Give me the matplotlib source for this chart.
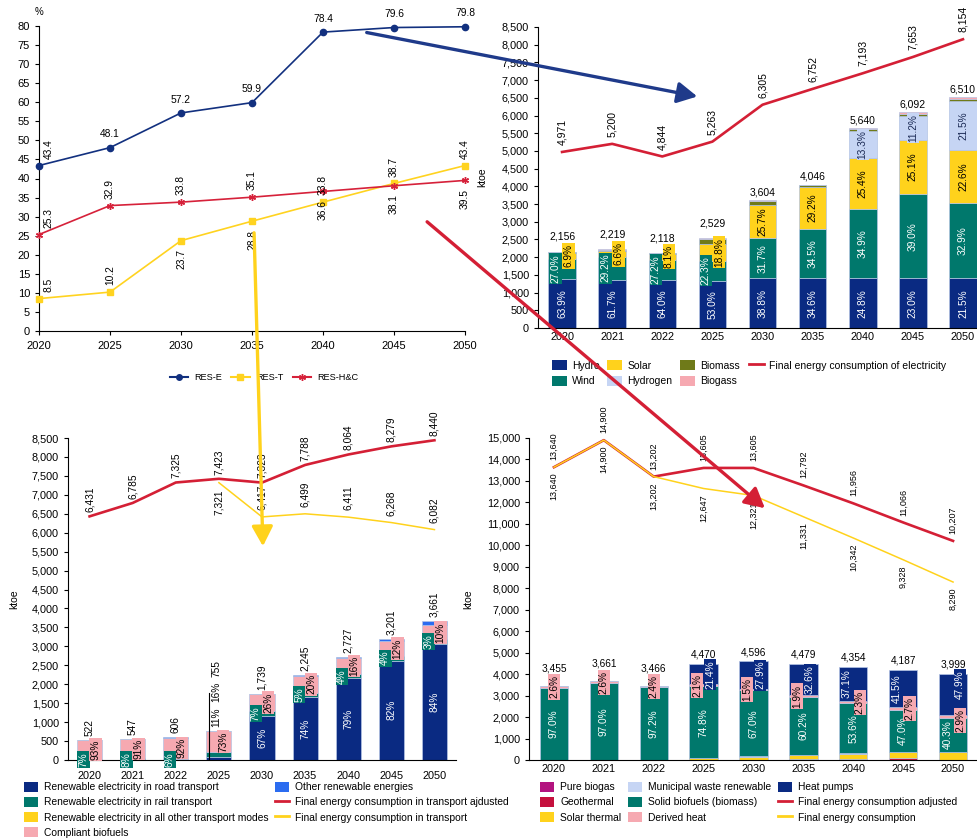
import numpy as np
import matplotlib
matplotlib.use('Agg')
import matplotlib.pyplot as plt
from matplotlib.patches import Patch, FancyArrowPatch
from matplotlib.lines import Line2D
from matplotlib.ticker import FuncFormatter

plt.rcParams['font.family'] = ['Liberation Sans', 'DejaVu Sans']

# top left: RES shares (%)
res_years = [2020, 2025, 2030, 2035, 2040, 2045, 2050]
res_e = [43.4, 48.1, 57.2, 59.9, 78.4, 79.6, 79.8]
res_t = [8.5, 10.2, 23.7, 28.8, 33.8, 38.7, 43.4]
res_hc = [25.3, 32.9, 33.8, 35.1, 36.6, 38.1, 39.5]

# bar chart categories (shared by the three ktoe panels)
years = ['2020', '2021', '2022', '2025', '2030', '2035', '2040', '2045', '2050']

# top right: renewable electricity (shares in % of total, ktoe)
el_total = [2156, 2219, 2118, 2529, 3604, 4046, 5640, 6092, 6510]
el_hydro = [63.9, 61.7, 64.0, 53.0, 38.8, 34.6, 24.8, 23.0, 21.5]
el_wind = [27.0, 29.2, 27.2, 22.3, 31.7, 34.5, 34.9, 39.0, 32.9]
el_solar = [6.9, 6.6, 8.1, 18.8, 25.7, 29.2, 25.4, 25.1, 22.6]
el_hydrogen = [0, 0, 0, 0, 0, 0, 13.3, 11.2, 21.5]
el_biomass = [1.5, 1.8, 0.4, 4.8, 3.0, 1.2, 1.0, 1.1, 0.9]
el_biogass = [0.7, 0.7, 0.3, 1.1, 0.8, 0.5, 0.6, 0.6, 0.6]
el_final = [4971, 5200, 4844, 5263, 6305, 6752, 7193, 7653, 8154]

# bottom left: transport
tr_total = [522, 547, 606, 755, 1739, 2245, 2727, 3201, 3661]
tr_road = [0, 0, 0, 11, 67, 74, 79, 82, 84]
tr_rail = [7, 8, 6, 16, 7, 5, 4, 4, 3]
tr_other_modes = [0, 0, 0, 0, 0, 0, 0, 0, 0]
tr_biofuels = [93, 91, 92, 73, 26, 20, 16, 12, 10]
tr_other_res = [0, 1, 2, 0, 0, 1, 1, 2, 3]
tr_adjusted = [6431, 6785, 7325, 7423, 7323, 7788, 8064, 8279, 8440]
tr_final = [np.nan, np.nan, np.nan, 7321, 6417, 6499, 6411, 6268, 6082]

# bottom right: heating & cooling
hc_total = [3455, 3661, 3466, 4470, 4596, 4479, 4354, 4187, 3999]
hc_pure_biogas = [0, 0, 0, 0.1, 0.1, 0.1, 0.1, 0.1, 0.1]
hc_geothermal = [0, 0, 0, 0.1, 0.2, 0.5, 1.2, 1.6, 0.3]
hc_solar = [0.2, 0.2, 0.2, 1.5, 3.2, 4.6, 5.6, 7.0, 8.4]
hc_municipal = [0.2, 0.2, 0.2, 0.1, 0.1, 0.1, 0.1, 0.1, 0.1]
hc_solid = [97.0, 97.0, 97.2, 74.8, 67.0, 60.2, 53.6, 47.0, 40.3]
hc_derived = [2.6, 2.6, 2.4, 2.1, 1.5, 1.9, 2.3, 2.7, 2.9]
hc_heatpumps = [0, 0, 0, 21.4, 27.9, 32.6, 37.1, 41.5, 47.9]
hc_adjusted = [13640, 14900, 13202, 13605, 13605, 12792, 11956, 11066, 10207]
hc_final = [13640, 14900, 13202, 12647, 12321, 11331, 10342, 9328, 8290]

navy = '#0a2a82'
teal = '#00786c'
yellow = '#ffd21c'
lightblue = '#c6d5f4'
olive = '#6f7a19'
pink = '#f6a9b1'
red = '#d41f35'
brightblue = '#2b6cf0'
magenta = '#b3137f'
crimson = '#c5103d'
edge = '#b4c4e4'

W, H = 978, 839
fig = plt.figure(figsize=(W / 100, H / 100), dpi=100)


def add_ax(l, r, t, b):
    return fig.add_axes([l / W, 1 - b / H, (r - l) / W, (b - t) / H])


def style(ax, fs=7.8):
    for s in ['top', 'right']:
        ax.spines[s].set_visible(False)
    ax.tick_params(labelsize=fs, length=3, width=0.8)


thousands = FuncFormatter(lambda v, p: f'{v:,.0f}')


def stack_bars(ax, totals, parts, width):
    totals = np.array(totals, float)
    bottom = np.zeros(len(totals))
    mids = []
    for pct, col in parts:
        vals = np.array(pct, float) / 100 * totals
        ax.bar(np.arange(len(totals)), vals, width, bottom=bottom, color=col,
               edgecolor=edge, linewidth=0.5, zorder=2)
        mids.append(bottom + vals / 2)
        bottom = bottom + vals
    return mids


def lab(ax, x, y, txt, color='black', box=None, fs=7.3, rot=90, dy=0):
    kw = {}
    if box is not None:
        kw['bbox'] = dict(boxstyle='square,pad=0.12', fc=box, ec='none')
    ax.annotate(txt, (x, y), xytext=(0, dy), textcoords='offset points', rotation=rot,
                ha='center', va='center', fontsize=fs, color=color, zorder=5,
                annotation_clip=False, **kw)


def line_labels(ax, xs, ys, where, fs=7.3, gap=4):
    for x, y, w in zip(xs, ys, where):
        if np.isnan(y):
            continue
        off = gap if w == 'above' else -gap
        ax.annotate(f'{y:,.0f}', (x, y), xytext=(0, off), textcoords='offset points',
                    rotation=90, ha='center', va='bottom' if w == 'above' else 'top',
                    fontsize=fs, zorder=5, annotation_clip=False)


# ---------------- top left ----------------
ax1 = add_ax(39, 465, 26, 331)
style(ax1, 8)
ax1.plot(res_years, res_e, color='#12307f', lw=1.2, marker='o', ms=4.5, clip_on=False, zorder=3)
ax1.plot(res_years, res_t, color='#ffd320', lw=1.2, marker='s', ms=4.5, clip_on=False, zorder=3)
ax1.plot(res_years, res_hc, color='#d6213a', lw=1.2, marker=(6, 2, 0), ms=5, mew=1,
         clip_on=False, zorder=3)
ax1.set_xlim(2020, 2050)
ax1.set_ylim(0, 80)
ax1.set_xticks(res_years)
ax1.set_yticks(range(0, 81, 5))
ax1.tick_params(axis='x', pad=4)
ax1.annotate('%', (0, 1), xycoords='axes fraction', xytext=(0, 10), textcoords='offset points',
             ha='center', va='center', fontsize=7)

for i, (x, y) in enumerate(zip(res_years, res_e)):
    if i == 0:
        ax1.annotate(f'{y}', (x, y), xytext=(7, 5), textcoords='offset points', rotation=90,
                     ha='center', va='bottom', fontsize=7.4)
    else:
        ax1.annotate(f'{y}', (x, y), xytext=(0, 6), textcoords='offset points',
                     ha='center', va='bottom', fontsize=7.4)

t_where = ['above', 'above', 'below', 'below', 'above', 'above', 'above']
hc_where = ['above', 'above', 'above', 'above', 'below', 'below', 'below']
for vals, where in [(res_t, t_where), (res_hc, hc_where)]:
    for i, (x, y, w) in enumerate(zip(res_years, vals, where)):
        dx = 7 if i == 0 else 0
        dy = 5 if w == 'above' else -6
        ax1.annotate(f'{y}', (x, y), xytext=(dx, dy), textcoords='offset points', rotation=90,
                     ha='center', va='bottom' if w == 'above' else 'top', fontsize=7.4,
                     annotation_clip=False)

h_res = [Line2D([], [], color='#12307f', lw=1.5, marker='o', ms=4),
         Line2D([], [], color='#ffd320', lw=1.5, marker='s', ms=4),
         Line2D([], [], color='#d6213a', lw=1.5, marker=(6, 2, 0), ms=5)]
fig.legend(h_res, ['RES-E', 'RES-T', 'RES-H&C'], loc='center', ncol=3,
           bbox_to_anchor=(264 / W, 1 - 378 / H), frameon=False, fontsize=6.6,
           handlelength=2.0, handletextpad=0.7, columnspacing=1.0, borderpad=0)

# ---------------- top right ----------------
ax2 = add_ax(538, 978, 27, 328)
style(ax2)
x = np.arange(len(years))
mids = stack_bars(ax2, el_total, [(el_hydro, navy), (el_wind, teal), (el_solar, yellow),
                                  (el_hydrogen, lightblue), (el_biomass, olive),
                                  (el_biogass, pink)], 0.55)
ax2.plot(x, el_final, color=red, lw=1.9, zorder=3)
line_labels(ax2, x, el_final, ['above'] * 9, fs=7.5, gap=5)
ax2.set_xlim(-0.48, 8.3)
ax2.set_ylim(0, 8500)
ax2.set_yticks(range(0, 8501, 500))
ax2.yaxis.set_major_formatter(thousands)
ax2.set_xticks(x, years)
ax2.tick_params(axis='x', length=0, pad=3)
ax2.set_ylabel('ktoe', fontsize=7.5)
ax2.yaxis.set_label_coords(-0.116, 0.5)
for i in range(len(years)):
    lab(ax2, i, mids[0][i], f'{el_hydro[i]:.1f}%', 'white')
    if i < 4:
        lab(ax2, i - 0.13, mids[1][i], f'{el_wind[i]:.1f}%', 'white', box=teal)
        lab(ax2, i + 0.13, mids[2][i], f'{el_solar[i]:.1f}%', 'black', box=yellow)
    else:
        lab(ax2, i, mids[1][i], f'{el_wind[i]:.1f}%', 'white')
        lab(ax2, i, mids[2][i], f'{el_solar[i]:.1f}%', 'black')
    if el_hydrogen[i] > 0:
        lab(ax2, i, mids[3][i], f'{el_hydrogen[i]:.1f}%', '#1b2a55', box=lightblue)
    ax2.annotate(f'{el_total[i]:,}', (i, el_total[i]), xytext=(0, 7 if i < 4 else 2),
                 textcoords='offset points', ha='center', va='bottom', fontsize=7.5)

h_el = [Patch(fc=navy), Patch(fc=teal), Patch(fc=yellow), Patch(fc=lightblue),
        Patch(fc=olive), Patch(fc=pink), Line2D([], [], color=red, lw=2)]
l_el = ['Hydro', 'Wind', 'Solar', 'Hydrogen', 'Biomass', 'Biogass',
        'Final energy consumption of electricity']


def col_legend(handles, labels, xpx, ypx, fs=7.4, spacing=0.45):
    fig.legend(handles, labels, loc='upper left', bbox_to_anchor=(xpx / W, 1 - ypx / H),
               frameon=False, fontsize=fs, handlelength=1.4, handleheight=1.1,
               handletextpad=0.55, labelspacing=spacing, borderpad=0, borderaxespad=0)


col_legend(h_el[0:2], l_el[0:2], 552, 360, 7.5, 0.5)
col_legend(h_el[2:4], l_el[2:4], 607, 360, 7.5, 0.5)
col_legend(h_el[4:6], l_el[4:6], 680, 360, 7.5, 0.5)
col_legend(h_el[6:], l_el[6:], 749, 360, 7.5, 0.5)

# ---------------- bottom left ----------------
ax3 = add_ax(68, 456, 438, 760)
style(ax3)
mids = stack_bars(ax3, tr_total, [(tr_road, navy), (tr_rail, teal),
                                  (tr_other_modes, yellow), (tr_biofuels, pink),
                                  (tr_other_res, brightblue)], 0.58)
ax3.plot(x, tr_adjusted, color=red, lw=1.9, zorder=3)
ax3.plot(x, tr_final, color='#ffd21c', lw=1.1, zorder=3)
line_labels(ax3, x, tr_adjusted, ['above'] * 9, fs=7.3, gap=3)
line_labels(ax3, x, tr_final, ['below', 'below', 'below', 'below'] + ['above'] * 5, fs=7.3, gap=5)
ax3.set_xlim(-0.5, 8.5)
ax3.set_ylim(0, 8500)
ax3.set_yticks(range(0, 8501, 500))
ax3.yaxis.set_major_formatter(thousands)
ax3.set_xticks(x, years)
ax3.tick_params(axis='x', length=0, pad=8)
ax3.set_ylabel('ktoe', fontsize=7.5)
ax3.yaxis.set_label_coords(-0.126, 0.5)
for i in range(len(years)):
    if i == 3:
        lab(ax3, i + 0.1, mids[3][i], f'{tr_biofuels[i]}%', 'black', box=pink)
        for txt, dy in [(f'{tr_road[i]}%', 3), (f'{tr_rail[i]}%', 21), (f'{tr_total[i]:,}', 39)]:
            ax3.annotate(txt, (i - 0.05, tr_total[i]), xytext=(0, dy), textcoords='offset points',
                         rotation=90, ha='center', va='bottom', fontsize=7.3)
        ax3.plot([i - 0.23, i - 0.23], [0, tr_total[i] + 1015], color='black', lw=0.8, zorder=4)
        continue
    if tr_road[i] > 0:
        lab(ax3, i, mids[0][i], f'{tr_road[i]}%', 'white')
    lab(ax3, i - 0.14, mids[1][i], f'{tr_rail[i]}%', 'white', box=teal)
    lab(ax3, i + 0.14, mids[3][i], f'{tr_biofuels[i]}%', 'black', box=pink)
    ax3.annotate(f'{tr_total[i]:,}', (i, tr_total[i]), xytext=(0, 3), textcoords='offset points',
                 rotation=90, ha='center', va='bottom', fontsize=7.3)

h_tr = [Patch(fc=navy), Patch(fc=teal), Patch(fc=yellow), Patch(fc=pink),
        Patch(fc=brightblue), Line2D([], [], color=red, lw=2), Line2D([], [], color='#ffd21c', lw=2)]
l_tr = ['Renewable electricity in road transport', 'Renewable electricity in rail transport',
        'Renewable electricity in all other transport modes', 'Compliant biofuels',
        'Other renewable energies', 'Final energy consumption in transport ajdusted',
        'Final energy consumption in transport']
col_legend(h_tr[0:4], l_tr[0:4], 24, 782)
col_legend(h_tr[4:], l_tr[4:], 275, 782)

# ---------------- bottom right ----------------
ax4 = add_ax(529, 978, 438, 760)
style(ax4)
mids = stack_bars(ax4, hc_total, [(hc_pure_biogas, magenta), (hc_geothermal, crimson),
                                  (hc_solar, yellow), (hc_municipal, lightblue),
                                  (hc_solid, teal), (hc_derived, pink),
                                  (hc_heatpumps, navy)], 0.57)
ax4.plot(x, hc_adjusted, color=red, lw=1.9, zorder=3)
ax4.plot(x, hc_final, color='#ffd21c', lw=1.1, zorder=3)
line_labels(ax4, x, hc_adjusted, ['above'] * 9, fs=6.5, gap=5)
line_labels(ax4, x, hc_final, ['below'] * 9, fs=6.5, gap=4)
ax4.set_xlim(-0.5, 8.5)
ax4.set_ylim(0, 15000)
ax4.set_yticks(range(0, 15001, 1000))
ax4.yaxis.set_major_formatter(thousands)
ax4.set_xticks(x, years)
ax4.tick_params(axis='x', length=0, pad=3)
ax4.set_ylabel('ktoe', fontsize=7.5)
ax4.yaxis.set_label_coords(-0.125, 0.5)
for i in range(len(years)):
    if i < 8:
        lab(ax4, i, mids[4][i], f'{hc_solid[i]:.1f}%', 'white')
    else:
        lab(ax4, i - 0.11, mids[4][i], f'{hc_solid[i]:.1f}%', 'white')
    if i < 3:
        lab(ax4, i, mids[5][i], f'{hc_derived[i]:.1f}%', 'black', box=pink)
    elif i < 6:
        lab(ax4, i - 0.13, mids[5][i], f'{hc_derived[i]:.1f}%', 'black', box=pink)
        lab(ax4, i + 0.13, mids[6][i], f'{hc_heatpumps[i]:.1f}%', 'white', box=navy)
    elif i < 8:
        lab(ax4, i + 0.13, mids[5][i], f'{hc_derived[i]:.1f}%', 'black', box=pink)
        lab(ax4, i - 0.13, mids[6][i], f'{hc_heatpumps[i]:.1f}%', 'white', box=navy)
    else:
        lab(ax4, i + 0.14, mids[5][i], f'{hc_derived[i]:.1f}%', 'black', box=pink, dy=-3)
        lab(ax4, i + 0.14, mids[6][i], f'{hc_heatpumps[i]:.1f}%', 'white', box=navy, dy=7)
    ax4.annotate(f'{hc_total[i]:,}', (i, hc_total[i]), xytext=(0, 9 if i < 3 else 3),
                 textcoords='offset points', ha='center', va='bottom', fontsize=7.3)

h_hc = [Patch(fc=magenta), Patch(fc=crimson), Patch(fc=yellow), Patch(fc=lightblue),
        Patch(fc=teal), Patch(fc=pink), Patch(fc=navy),
        Line2D([], [], color=red, lw=2), Line2D([], [], color='#ffd21c', lw=2)]
l_hc = ['Pure biogas', 'Geothermal', 'Solar thermal', 'Municipal waste renewable',
        'Solid biofuels (biomass)', 'Derived heat', 'Heat pumps',
        'Final energy consumption adjusted', 'Final energy consumption']
col_legend(h_hc[0:3], l_hc[0:3], 540, 782)
col_legend(h_hc[3:6], l_hc[3:6], 628, 782)
col_legend(h_hc[6:], l_hc[6:], 778, 782)


# ---------------- connecting arrows ----------------
def arrow(p0, p1, color):
    a = FancyArrowPatch((p0[0] / W, 1 - p0[1] / H), (p1[0] / W, 1 - p1[1] / H),
                        transform=fig.transFigure, arrowstyle='-|>,head_length=0.6,head_width=0.32',
                        mutation_scale=20, color=color, lw=2.4, zorder=10)
    fig.add_artist(a)


arrow((364, 32), (700, 97), '#1f3a8a')
arrow((254, 230), (263, 549), '#ffd21c')
arrow((425, 220), (767, 510), '#d41f35')

fig.savefig('out.png', dpi=100)
